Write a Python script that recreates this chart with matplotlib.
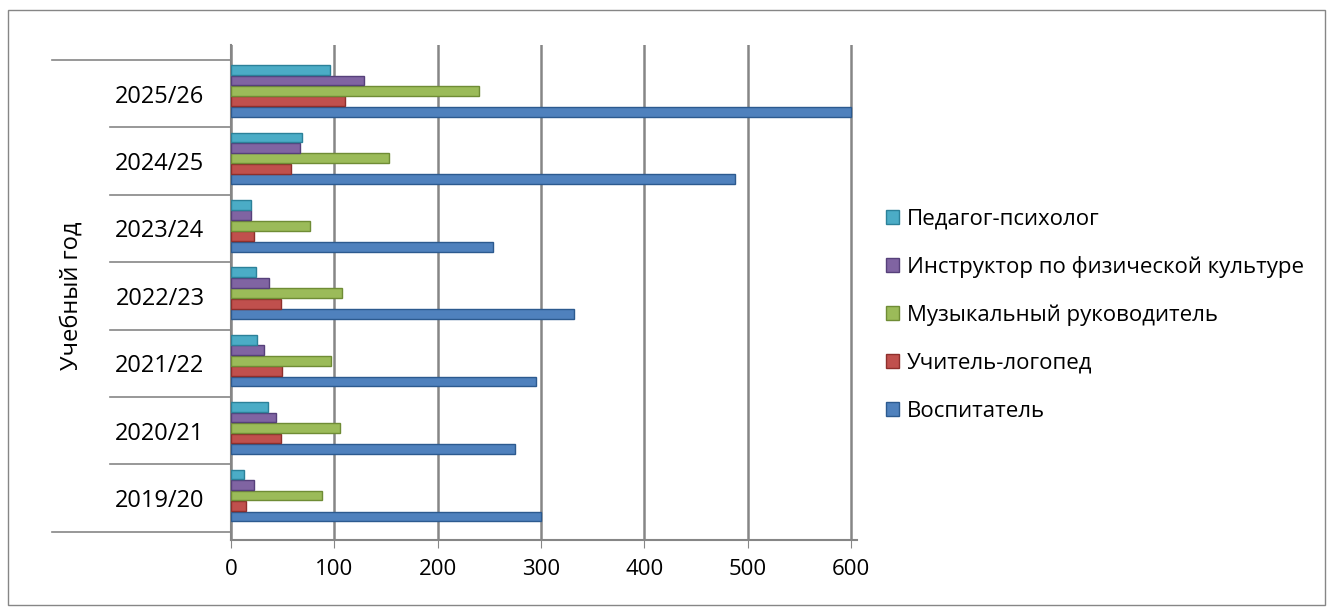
import matplotlib.pyplot as plt
import numpy as np

plt.rcParams['font.family'] = ['Open Sans', 'DejaVu Sans']

years = ['2019/20', '2020/21', '2021/22', '2022/23', '2023/24', '2024/25', '2025/26']
series_names = ['Воспитатель', 'Учитель-логопед', 'Музыкальный руководитель',
                'Инструктор по физической культуре', 'Педагог-психолог']
vospitatel = [300, 275, 295, 332, 254, 488, 600]
logoped = [15, 48, 49, 48, 22, 58, 110]
muz_ruk = [88, 106, 97, 107, 76, 153, 240]
fiz_instr = [22, 44, 32, 37, 19, 67, 129]
psiholog = [13, 36, 25, 24, 19, 69, 96]
x_ticks = [0, 100, 200, 300, 400, 500, 600]

colors = ['#4F81BD', '#C0504D', '#9BBB59', '#8064A2', '#4BACC6']
edges = ['#2C5A8F', '#8E2F2C', '#6F8C35', '#56407A', '#2C8199']
values = [vospitatel, logoped, muz_ruk, fiz_instr, psiholog]

fig = plt.figure(figsize=(13.3, 6.14), dpi=100)
ax = fig.add_axes([231 / 1330, 1 - 540 / 614, 626 / 1330, 495 / 614])

y = np.arange(len(years))
step = 0.155
bars = []
for i, (vals, c, ec) in enumerate(zip(values, colors, edges)):
    b = ax.barh(y + (i - 2) * step + 0.04, vals, height=0.145, color=c,
                edgecolor=ec, linewidth=1.0, zorder=3, label=series_names[i])
    bars.append(b)

ax.set_xlim(0, 606)
ax.set_ylim(-0.62, 6.72)
ax.set_xticks(x_ticks)
ax.set_xticklabels([str(t) for t in x_ticks], fontsize=16)
ax.set_yticks(y)
ax.set_yticklabels(years, fontsize=17)
ax.tick_params(axis='y', length=0, pad=19)
ax.tick_params(axis='x', length=6, color='#868686', pad=8)

ax.grid(axis='x', color='#868686', linewidth=1.8, zorder=0)
for s in ['top', 'right']:
    ax.spines[s].set_visible(False)
ax.spines['left'].set_color('#868686')
ax.spines['left'].set_linewidth(1.5)
ax.spines['bottom'].set_color('#868686')
ax.spines['bottom'].set_linewidth(1.5)

# линии между подписями категорий
tr = ax.get_yaxis_transform()
for k in range(len(years) + 1):
    yy = k - 0.5
    x0 = -0.286 if k in (0, len(years)) else -0.193
    ax.plot([x0, 0], [yy, yy], color='#868686', linewidth=1.2,
            transform=tr, clip_on=False)

fig.text(72 / 1330, 1 - 296 / 614, 'Учебный год', rotation=90,
         ha='center', va='center', fontsize=17)

handles = bars[::-1]
labels = series_names[::-1]
fig.legend(handles, labels, loc='center left',
           bbox_to_anchor=(866 / 1330, 1 - 315 / 614), frameon=False,
           fontsize=16, handlelength=0.6, handleheight=0.6,
           handletextpad=0.35, labelspacing=1.2)

# рамка вокруг диаграммы
fig.patches.append(plt.Rectangle((8 / 1330, 1 - 605 / 614), 1317 / 1330, 595 / 614,
                                 transform=fig.transFigure, fill=False,
                                 edgecolor='#868686', linewidth=1.0))

fig.savefig('out.png', dpi=100)
